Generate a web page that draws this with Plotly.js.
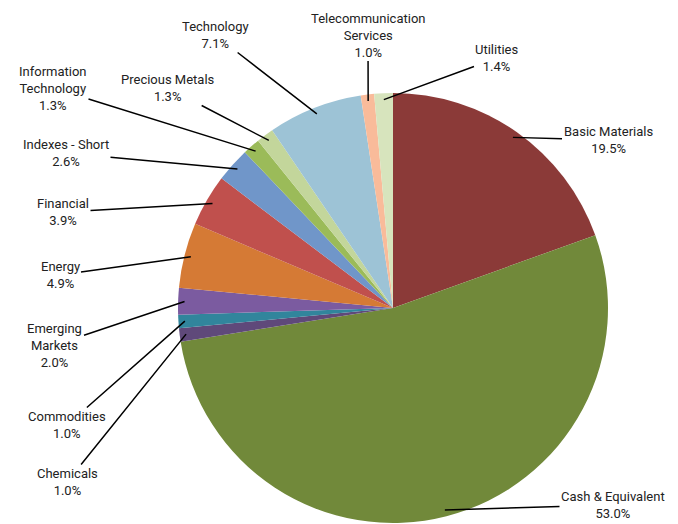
<!DOCTYPE html>
<html><head><meta charset="utf-8">
<script src="https://cdn.plot.ly/plotly-3.0.1.min.js"></script>
<style>body{margin:0}</style></head>
<body><div id="chart" style="width:678px;height:524px"></div>
<script>
var labels = ["Basic Materials", "Cash & Equivalent", "Chemicals", "Commodities", "Emerging Markets", "Energy", "Financial", "Indexes - Short", "Information Technology", "Precious Metals", "Technology", "Telecommunication Services", "Utilities"];
var values = [19.5, 53.0, 1.0, 1.0, 2.0, 4.9, 3.9, 2.6, 1.3, 1.3, 7.1, 1.0, 1.4];
var displayNames = ["Basic Materials", "Cash & Equivalent", "Chemicals", "Commodities", "Emerging<br>Markets", "Energy", "Financial", "Indexes - Short", "Information<br>Technology", "Precious Metals", "Technology", "Telecommunication<br>Services", "Utilities"];
var colors = ["#8B3A38", "#71893A", "#5F497A", "#31859C", "#7B5BA0", "#D57A35", "#C0504D", "#7096C9", "#9BBB59", "#C3D69B", "#9DC3D6", "#F9BB9A", "#D7E4BD"];
// label centres (px), layout only
var labelPos = [[608,140],[613,505],[67,482],[67,425],[55,345],[60,275],[63,212],[66,153],[53,88],[168,88],[215,35],[368,35],[497,58]];

var W = 678, H = 524, cx = 393, cy = 308, R = 215;
var total = values.reduce(function (a, b) { return a + b; }, 0);
var annotations = [];
var acc = 0;
values.forEach(function (v, i) {
  var mid = (acc + v / 2) / total * 2 * Math.PI;
  acc += v;
  var tx = cx + R * 0.97 * Math.sin(mid), ty = cy - R * 0.97 * Math.cos(mid);
  annotations.push({
    x: tx / W, y: 1 - ty / H, xref: "paper", yref: "paper",
    ax: labelPos[i][0] - tx, ay: labelPos[i][1] - ty,
    text: displayNames[i] + "<br>" + v.toFixed(1) + "%",
    showarrow: true, arrowhead: 0, arrowwidth: 1.5, arrowcolor: "#000",
    font: {family: "Roboto, sans-serif", size: 13, color: "#222"}, align: "center"
  });
});

var data = [{
  type: "pie", labels: labels, values: values, sort: false, direction: "clockwise", rotation: 0,
  marker: {colors: colors, line: {width: 0}}, textinfo: "none", hoverinfo: "label+percent",
  domain: {x: [(cx - R) / W, (cx + R) / W], y: [1 - (cy + R) / H, 1 - (cy - R) / H]}
}];
var layout = {
  width: W, height: H, margin: {l: 0, r: 0, t: 0, b: 0}, showlegend: false,
  paper_bgcolor: "#fff", annotations: annotations
};
Plotly.newPlot("chart", data, layout, {displayModeBar: false});
</script></body></html>
